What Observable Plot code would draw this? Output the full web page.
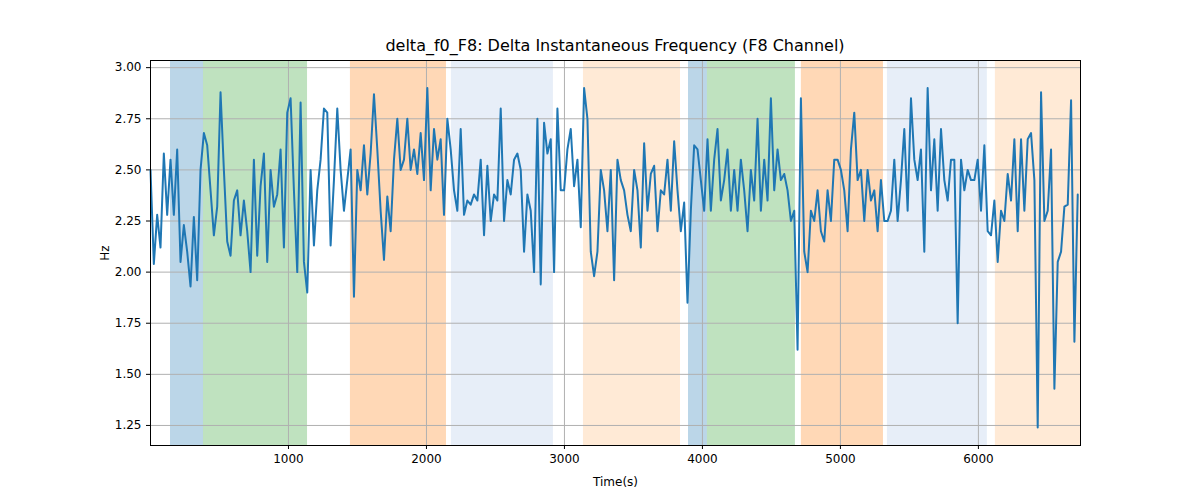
<!DOCTYPE html>
<html><head><meta charset="utf-8">
<script src="https://cdn.jsdelivr.net/npm/d3@7"></script>
<script src="https://cdn.jsdelivr.net/npm/@observablehq/plot@0.6"></script>
<style>body{margin:0;background:#fff;font-family:"DejaVu Sans",sans-serif}
#t{position:absolute;top:36px;left:0;width:1230px;text-align:center;font-size:16px;color:#000}</style>
</head><body><div id="t">delta_f0_F8: Delta Instantaneous Frequency (F8 Channel)</div><div id="c"></div>
<script>
const values = [2.50,2.04,2.28,2.12,2.58,2.28,2.55,2.28,2.60,2.05,2.23,2.10,1.93,2.27,1.96,2.50,
2.68,2.62,2.40,2.18,2.32,2.88,2.50,2.15,2.08,2.35,2.40,2.18,2.35,2.20,2.00,2.55,2.08,2.42,2.58,2.05,2.50,2.32,2.38,2.60,2.12,2.78,2.85,2.40,2.00,2.83,2.05,1.90,2.50,2.13,2.40,2.55,2.80,
2.78,2.13,2.45,2.80,2.50,2.30,2.45,2.60,1.88,2.50,2.40,2.62,
2.38,2.58,2.87,2.60,2.30,2.06,2.37,2.20,2.55,2.75,2.50,2.55,2.75,2.50,2.60,2.48,2.68,2.45,2.90,2.40,2.70,2.55,2.65,2.28,2.75,2.60,2.40,2.30,
2.70,2.28,2.35,2.33,2.38,2.35,2.55,2.18,2.52,2.25,2.38,2.35,2.80,2.25,2.45,2.38,2.55,2.58,2.50,2.10,2.38,2.30,2.00,2.75,1.94,2.73,2.58,2.65,2.00,2.80,2.40,
2.40,2.60,2.70,2.42,2.55,2.22,2.90,2.75,
2.10,1.98,2.10,2.50,2.40,2.20,2.50,1.96,2.55,2.45,2.40,2.28,2.20,2.50,2.40,2.12,2.63,2.30,2.48,2.52,2.20,2.40,2.38,2.55,2.30,2.64,2.40,2.20,2.34,
1.85,2.30,2.62,2.60,2.45,2.30,2.65,2.30,
2.55,2.70,2.35,2.45,2.60,2.30,2.50,2.30,2.55,2.40,2.20,2.50,2.35,2.75,2.30,2.55,2.35,2.85,2.40,2.60,2.45,2.48,2.40,2.25,2.30,
1.62,2.85,
2.10,2.00,2.30,2.25,2.40,2.20,2.15,2.40,2.25,2.55,2.55,2.50,2.40,2.20,2.60,2.78,2.45,2.50,2.25,2.50,2.35,2.40,2.20,2.45,
2.25,2.25,2.30,2.55,2.25,2.45,2.70,2.30,2.85,2.55,2.45,2.60,2.10,2.90,2.40,2.65,2.30,2.70,2.45,2.35,2.55,2.55,1.75,2.55,2.40,2.50,2.45,2.45,2.55,2.30,
2.62,2.20,2.18,2.35,2.05,2.30,2.25,2.48,2.35,2.65,2.20,2.65,2.30,2.65,2.68,2.45,1.24,2.88,2.25,2.30,2.60,1.43,2.05,2.10,2.32,2.33,2.84,1.66,2.38];
const tEnd = 6720;
const bandStart = [145,384,1449,2181,3138,3899,4036,4717,5341,6123];
const bandEnd   = [384,1138,2145,2920,3841,4036,4674,5312,6065,6740];
const bandColor = ["#1f77b4","#2ca02c","#ff7f0e","#aec7e8","#ffbb78","#1f77b4","#2ca02c","#ff7f0e","#aec7e8","#ffbb78"];
const bands = bandStart.map((s,i)=>({s,e:bandEnd[i],c:bandColor[i]}));
const series = values.map((v,i)=>({t:i*tEnd/(values.length-1), v}));
const chart = Plot.plot({
  width:1200, height:500, marginTop:60, marginLeft:150, marginRight:120, marginBottom:55,
  style:{fontSize:"12px", fontFamily:"DejaVu Sans, sans-serif", color:"#000"},
  x:{domain:[0,6740], ticks:[1000,2000,3000,4000,5000,6000], tickFormat:d=>String(d), label:"Time(s)", labelAnchor:"center", labelArrow:"none", labelOffset:40, tickSize:4},
  y:{domain:[1.152,3.035], ticks:[1.25,1.5,1.75,2,2.25,2.5,2.75,3], tickFormat:d3.format(".2f"), label:"Hz", labelAnchor:"center", labelArrow:"none", labelOffset:50, tickSize:4},
  marks:[
    Plot.rectX(bands,{x1:"s",x2:"e",fill:"c",fillOpacity:0.3}),
    Plot.gridX([1000,2000,3000,4000,5000,6000],{stroke:"#b0b0b0",strokeOpacity:1}),
    Plot.gridY([1.25,1.5,1.75,2,2.25,2.5,2.75,3],{stroke:"#b0b0b0",strokeOpacity:1}),
    Plot.line(series,{x:"t",y:"v",stroke:"#1f77b4",strokeWidth:2}),
    Plot.frame({stroke:"#000"})
  ]
});
document.getElementById("c").appendChild(chart);
</script></body></html>
